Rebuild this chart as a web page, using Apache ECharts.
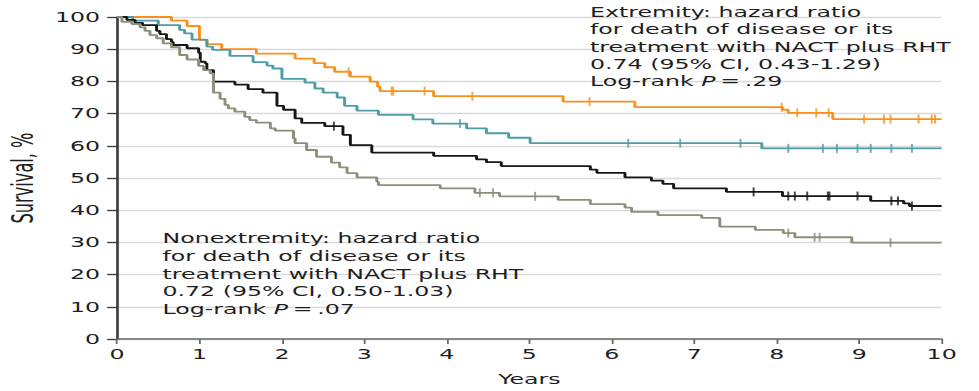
<!DOCTYPE html>
<html>
<head>
<meta charset="utf-8">
<script src="https://cdn.jsdelivr.net/npm/echarts@6/dist/echarts.min.js"></script>
<style>
  html, body { margin: 0; padding: 0; background: #fff; }
  #frame { width: 979px; height: 391px; overflow: hidden; position: relative; }
  /* the plot is laid out on a narrower canvas and widened to the frame */
  #chart { width: 600px; height: 391px; transform-origin: 0 0; transform: scaleX(1.63167); }
</style>
</head>
<body>
<div id="frame"><div id="chart"></div></div>
<script>
// Kaplan-Meier steps: [years, survival %] — each value holds from that time on
const extremityNactSteps = [[0,100],[0.66,98.9],[0.85,97.2],[1.0,92.9],[1.09,91.6],[1.27,90.0],[1.69,88.6],[2.16,87.1],[2.39,85.7],[2.52,84.4],[2.64,83.0],[2.83,81.5],[3.07,79.9],[3.16,78.4],[3.19,77.0],[3.84,75.4],[5.41,73.7],[6.28,72.0],[8.07,71.2],[8.14,70.2],[8.68,68.3],[10,68.3]];
const extremityNactCensored = [[2.81,83.0],[3.33,77.0],[3.35,77.0],[3.73,77.0],[4.31,75.4],[5.73,73.7],[8.06,72.0],[8.25,70.2],[8.48,70.2],[8.63,70.2],[9.06,68.3],[9.30,68.3],[9.38,68.3],[9.72,68.3],[9.88,68.3],[9.92,68.3]];

const extremityOtherSteps = [[0,100],[0.19,98.9],[0.5,97.5],[0.76,96.0],[0.82,94.9],[0.91,93.0],[1.09,90.8],[1.16,89.8],[1.37,87.9],[1.65,86.0],[1.82,84.9],[1.89,84.0],[2.0,80.8],[2.28,79.6],[2.4,77.8],[2.5,76.5],[2.67,75.0],[2.76,72.4],[2.91,70.9],[3.17,69.6],[3.59,68.2],[3.83,66.9],[4.24,65.4],[4.48,63.9],[4.75,62.5],[5.01,60.8],[7.82,59.2],[10,59.2]];
const extremityOtherCensored = [[4.16,66.9],[6.2,60.8],[6.83,60.8],[7.56,60.8],[8.14,59.2],[8.56,59.2],[8.73,59.2],[8.98,59.2],[9.14,59.2],[9.39,59.2],[9.64,59.2]];

const nonextremityNactSteps = [[0,100],[0.12,99.1],[0.22,98.2],[0.31,97.5],[0.48,95.7],[0.52,94.7],[0.6,93.1],[0.66,92.3],[0.68,91.3],[0.85,90.3],[0.99,88.9],[1.01,86.1],[1.07,85.6],[1.09,83.5],[1.17,79.9],[1.43,79.0],[1.59,77.6],[1.77,76.5],[1.94,72.4],[2.02,71.2],[2.16,68.5],[2.24,67.1],[2.52,66.1],[2.74,63.4],[2.83,60.2],[3.09,57.9],[3.84,56.9],[4.36,55.8],[4.48,54.9],[4.66,53.7],[5.74,52.6],[5.82,51.6],[6.16,50.2],[6.48,49.2],[6.62,48.2],[6.75,46.8],[7.39,45.7],[8.07,44.4],[9.14,42.9],[9.54,42.1],[9.61,41.3],[10,41.3]];
const nonextremityNactCensored = [[2.63,66.1],[7.72,45.7],[8.14,44.4],[8.22,44.4],[8.37,44.4],[8.62,44.4],[8.64,44.4],[8.98,44.4],[9.39,42.9],[9.47,42.9],[9.64,41.3]];

const nonextremityOtherSteps = [[0,100],[0.06,98.5],[0.18,97.8],[0.28,96.8],[0.34,95.7],[0.4,94.4],[0.48,93.4],[0.56,91.8],[0.66,90.6],[0.76,88.2],[0.85,86.8],[0.99,84.8],[1.05,83.5],[1.13,82.5],[1.17,76.5],[1.25,74.6],[1.31,72.7],[1.35,71.6],[1.43,70.6],[1.55,69.0],[1.61,68.0],[1.69,67.2],[1.86,65.4],[1.92,64.7],[2.14,62.3],[2.16,60.8],[2.3,58.7],[2.42,56.6],[2.6,54.8],[2.7,53.3],[2.79,51.5],[2.91,50.2],[3.15,48.9],[3.17,47.8],[3.92,46.8],[4.34,45.4],[4.64,44.3],[5.35,43.2],[5.74,41.9],[6.16,40.8],[6.24,39.5],[6.56,38.5],[7.09,37.6],[7.31,34.9],[7.74,33.9],[8.08,32.9],[8.22,31.6],[8.91,29.9],[10,29.9]];
const nonextremityOtherCensored = [[4.40,45.4],[4.56,45.4],[5.07,44.3],[8.14,32.9],[8.46,31.6],[8.52,31.6],[9.38,29.9]];

const yearTicks = [0,1,2,3,4,5,6,7,8,9,10];
const survivalTicks = [0,10,20,30,40,50,60,70,80,90,100];

const extremityNote = [
  'Extremity: hazard ratio',
  'for death of disease or its',
  'treatment with NACT plus RHT',
  '0.74 (95% CI, 0.43-1.29)',
  'Log-rank {i|P}\u2009=\u2009.29'
];
const nonextremityNote = [
  'Nonextremity: hazard ratio',
  'for death of disease or its',
  'treatment with NACT plus RHT',
  '0.72 (95% CI, 0.50-1.03)',
  'Log-rank {i|P}\u2009=\u2009.07'
];

const colors = {
  extremityNact: '#f7901e',
  extremityOther: '#4f9ca6',
  nonextremityNact: '#161616',
  nonextremityOther: '#8a9079'
};

const textFont = "'DejaVu Sans', Verdana, sans-serif";
const textColor = '#1e1e1e';

function curve(name, data, color) {
  return {
    name, type: 'line', step: 'end', data, symbol: 'none', silent: true,
    lineStyle: { color, width: 1.8 }, z: 3
  };
}
function ticks(name, data, color) {
  return {
    name: name + ' censored', type: 'scatter', data, symbol: 'rect',
    symbolSize: [1.2, 9], itemStyle: { color }, silent: true, z: 4
  };
}
function note(lines, x, y, lh) {
  return {
    type: 'text', left: x, top: y, silent: true, z: 10,
    style: {
      text: lines.join('\n'), fill: textColor, fontFamily: textFont,
      fontSize: 14.5, lineHeight: lh,
      rich: { i: { fontStyle: 'italic', fontFamily: textFont, fontSize: 14.5, fill: textColor, lineHeight: lh } }
    }
  };
}

const chart = echarts.init(document.getElementById('chart'), null, { renderer: 'svg' });
chart.setOption({
  animation: false,
  backgroundColor: '#fff',
  grid: { left: 71.7, right: 22.9, top: 17, bottom: 52, containLabel: false, outerBoundsMode: 'none' },
  xAxis: {
    type: 'value', min: yearTicks[0], max: yearTicks[yearTicks.length - 1], interval: 1,
    name: 'Years', nameLocation: 'middle', nameGap: 33,
    nameTextStyle: { fontFamily: textFont, fontSize: 14.5, color: textColor },
    axisLine: { show: true, onZero: false, lineStyle: { color: '#6a6a6a', width: 1.5 } },
    axisTick: { show: true, length: 5, lineStyle: { color: '#6a6a6a', width: 1.1 } },
    axisLabel: { fontFamily: textFont, fontSize: 14.5, color: textColor, margin: 8 },
    splitLine: { show: false }
  },
  yAxis: {
    type: 'value', min: survivalTicks[0], max: survivalTicks[survivalTicks.length - 1], interval: 10,
    name: 'Survival, %', nameLocation: 'middle', nameGap: 40, nameRotate: 90,
    nameTextStyle: { fontFamily: "'Liberation Sans Narrow', 'DejaVu Sans Condensed', 'Roboto Condensed', sans-serif", fontSize: 18, color: textColor },
    axisLine: { show: true, lineStyle: { color: '#3a3a3a', width: 1.6 } },
    axisTick: { show: true, length: 6, lineStyle: { color: '#3a3a3a', width: 1.3 } },
    axisLabel: { fontFamily: textFont, fontSize: 14.5, color: textColor, margin: 10.4 },
    splitLine: { show: true, lineStyle: { color: '#d9d9d9', width: 1.4 } }
  },
  series: [
    curve('Extremity, NACT plus RHT', extremityNactSteps, colors.extremityNact),
    curve('Extremity, other', extremityOtherSteps, colors.extremityOther),
    curve('Nonextremity, NACT plus RHT', nonextremityNactSteps, colors.nonextremityNact),
    curve('Nonextremity, other', nonextremityOtherSteps, colors.nonextremityOther),
    ticks('Extremity, NACT plus RHT', extremityNactCensored, colors.extremityNact),
    ticks('Extremity, other', extremityOtherCensored, colors.extremityOther),
    ticks('Nonextremity, NACT plus RHT', nonextremityNactCensored, colors.nonextremityNact),
    ticks('Nonextremity, other', nonextremityOtherCensored, colors.nonextremityOther)
  ],
  graphic: [
    note(extremityNote, 361.6, 3.5, 17.35),
    note(nonextremityNote, 99.6, 229.5, 17.75)
  ]
});
</script>
</body>
</html>
